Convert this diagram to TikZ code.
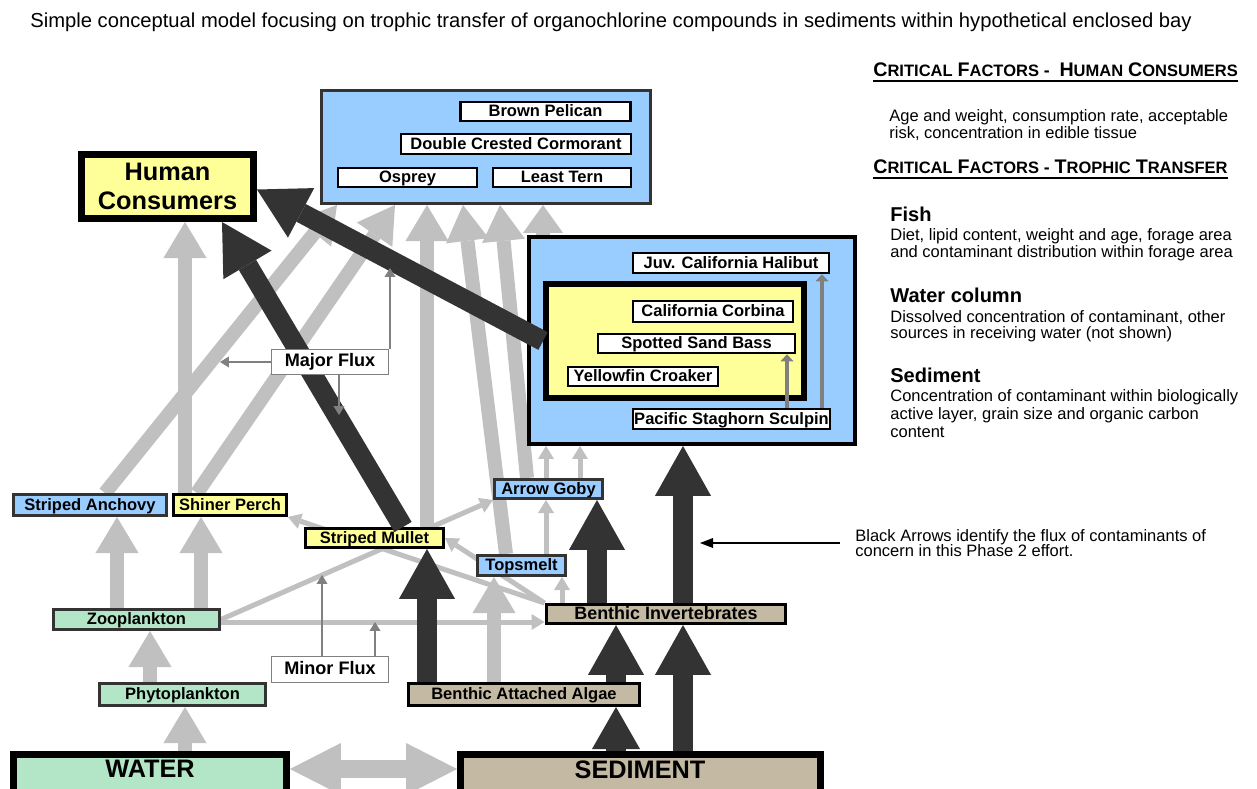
\documentclass[tikz,border=0pt]{standalone}
\usepackage{fontspec}
\setmainfont{Liberation Sans}
\usetikzlibrary{arrows.meta,calc}
\definecolor{lblue}{HTML}{99CCFF}
\definecolor{lyel}{HTML}{FFFF99}
\definecolor{mint}{HTML}{B3E6C6}
\definecolor{sedtan}{HTML}{C4B9A3}
\definecolor{lgray}{HTML}{C0C0C0}
\definecolor{dgray}{HTML}{333333}
\definecolor{mgray}{HTML}{808080}
\pgfdeclarelayer{bgfill}
\pgfdeclarelayer{bg}
\pgfsetlayers{bgfill,bg,main}
\newlength\pxu
\setlength\pxu{0.569pt}
\newcommand\lblfont{\fontsize{9.4}{11}\selectfont\bfseries}
\newcommand\bigfont{\fontsize{14.4}{16.4}\selectfont\bfseries}
\newcommand\rtfont{\fontsize{9.4}{11}\selectfont}
\newcommand\rhfont{\fontsize{11.4}{13}\selectfont\bfseries}
\newcommand\scA[1]{{\fontsize{11.2}{13}\selectfont #1}}
\newcommand\scB[1]{{\fontsize{9.4}{13}\selectfont #1}}
\tikzset{
  box/.style={draw=black, line width=2.5\pxu, fill=white, inner sep=0, font=\lblfont, align=center,
    text height=7.9pt, text depth=1.7pt},
  flux/.style={draw=mgray, line width=1\pxu, fill=white, inner sep=0, font=\fontsize{10.3}{12}\selectfont\bfseries,
    text height=7.6pt, text depth=2pt},
  heavy/.style={draw=black, line width=7\pxu, inner sep=0, align=center, font=\bigfont},
  ggray/.style={draw=lgray, line width=14\pxu, -{Triangle[length=20.5pt, width=24.5pt, line width=0pt]}},
  tgray/.style={draw=lgray, line width=5\pxu, -{Triangle[length=7.4pt, width=9.1pt, line width=0pt]}},
  blk/.style={draw=dgray, line width=20\pxu, -{Triangle[length=28.4pt, width=31.9pt, line width=0pt]}},
  ptr/.style={draw=mgray, line width=1.6\pxu, -{Triangle[length=5.1pt, width=6.3pt, line width=0pt]}},
  fin/.style={draw=mgray, line width=4\pxu, -{Triangle[length=4pt, width=7.4pt, line width=0pt]}},
  rt/.style={anchor=base west, inner sep=0, font=\rtfont},
  rh/.style={anchor=base west, inner sep=0, font=\rhfont},
}
\begin{document}
\begin{tikzpicture}[x=0.02cm, y=-0.02cm]
\useasboundingbox (0,0) rectangle (1257,788);
\begin{pgfonlayer}{bgfill}
\fill[white] (0,0) rectangle (1257,788);
\end{pgfonlayer}
\clip (0,0) rectangle (1257,788);

% x columns
\foreach \c in {105,117,150,185,197,201,222,322,337,339,345,375,390,395,403,427,463,494,500,506,527,543,546,562,580,597,616,683,787,822}
  {\coordinate (x\c) at (\c,0);}
\coordinate (y622) at (0,622);
\coordinate (y769) at (0,769);

% title
\node[anchor=base west, inner sep=0, font=\fontsize{11.5}{13}\selectfont] (title) at (30,27)
  {Simple conceptual model focusing on trophic transfer of organochlorine compounds in sediments within hypothetical enclosed bay};

% ---------- container / heavy boxes ----------
\node[draw=dgray, line width=3\pxu, fill=lblue, minimum width=329\pxu, minimum height=113\pxu] (birds) at (486,147) {};
\node[draw=black, line width=4\pxu, fill=lblue, minimum width=326\pxu, minimum height=207\pxu] (fish) at (692,340.5) {};
\node[heavy, fill=lyel, minimum width=258\pxu, minimum height=114\pxu, line width=6\pxu] (innery) at (675,341) {};
\node[heavy, fill=lyel, minimum width=172\pxu, minimum height=64\pxu] (human) at (167.5,186.5) {Human\\Consumers};
\node[heavy, fill=mint, minimum width=273\pxu, minimum height=56\pxu] (water) at (150,782.5) {};
\node[heavy, fill=sedtan, minimum width=360\pxu, minimum height=56\pxu] (sediment) at (640.5,782.5) {};
\node[anchor=base, inner sep=0, font=\bigfont] (watertxt) at (150,777) {WATER};
\node[anchor=base, inner sep=0, font=\bigfont] (sedtxt) at (640,778) {SEDIMENT};

% ---------- label boxes inside containers ----------
\path
  node[box, minimum width=170\pxu, minimum height=19\pxu] (pelican) at (545.5,111.5) {Brown Pelican}
  node[box, minimum width=230\pxu, minimum height=20\pxu] (cormorant) at (516,144) {Double Crested Cormorant}
  node[box, minimum width=139\pxu, minimum height=19\pxu] (osprey) at (407.5,177.5) {Osprey}
  node[box, minimum width=138\pxu, minimum height=19\pxu] (tern) at (562,177.5) {Least Tern}
  node[box, minimum width=196\pxu, minimum height=20\pxu] (halibut) at (731,263) {Juv. California Halibut}
  node[box, minimum width=160\pxu, minimum height=21\pxu] (corbina) at (713,311.5) {California Corbina}
  node[box, minimum width=197\pxu, minimum height=19\pxu] (bass) at (696.5,343.5) {Spotted Sand Bass}
  node[box, minimum width=150\pxu, minimum height=19\pxu] (croaker) at (643,376.5) {Yellowfin Croaker}
  node[box, minimum width=197\pxu, minimum height=20\pxu] (sculpin) at (731.5,419) {Pacific Staghorn Sculpin};

% ---------- small boxes ----------
\path
  node[box, fill=lblue, draw=dgray, line width=3\pxu, minimum width=153\pxu, minimum height=21\pxu] (anchovy) at (90,505) {Striped Anchovy}
  node[box, fill=lyel, line width=3\pxu, minimum width=113\pxu, minimum height=21\pxu] (perch) at (230,505) {Shiner Perch}
  node[box, fill=lyel, line width=3\pxu, minimum width=138\pxu, minimum height=19\pxu] (mullet) at (374.5,538) {Striped Mullet}
  node[box, fill=lblue, draw=dgray, line width=3\pxu, minimum width=108\pxu, minimum height=19\pxu] (goby) at (548.5,489) {Arrow Goby}
  node[box, fill=lblue, draw=dgray, line width=3\pxu, minimum width=88\pxu, minimum height=20\pxu] (topsmelt) at (521.5,565.5) {Topsmelt}
  node[box, fill=sedtan, line width=3\pxu, minimum width=240\pxu, minimum height=19\pxu, font=\fontsize{10.2}{12}\selectfont\bfseries] (bi) at (666,614) {Benthic Invertebrates}
  node[box, fill=mint, draw=dgray, line width=3\pxu, minimum width=166\pxu, minimum height=20\pxu] (zoo) at (136.5,619.5) {Zooplankton}
  node[box, fill=mint, draw=dgray, line width=3\pxu, minimum width=166\pxu, minimum height=22\pxu] (phyto) at (182.5,694.5) {Phytoplankton}
  node[box, fill=sedtan, line width=3\pxu, minimum width=231\pxu, minimum height=22\pxu] (algae) at (524,694.5) {Benthic Attached Algae};

% ---------- light gray arrows (behind the boxes) ----------
\begin{pgfonlayer}{bg}
\draw[ggray] (water.north -| x185) -- (phyto.south -| x185);
\draw[ggray] (phyto.north -| x150) -- (zoo.south -| x150);
\draw[ggray] (zoo.north -| x117) -- (anchovy.south -| x117);
\draw[ggray] (zoo.north -| x201) -- (perch.south -| x201);
\draw[ggray] (perch.north -| x185) -- (human.south -| x185);
\draw[ggray] (anchovy.north -| x105) -- (birds.south -| x337);
\draw[ggray] (perch.north -| x197) -- (birds.south -| x395);
\draw[ggray] (mullet.north -| x427) -- (birds.south -| x427);
\draw[ggray] (topsmelt.north -| x506) -- (birds.south -| x463);
\draw[ggray] (goby.north -| x527) -- (birds.south -| x500);
\draw[ggray] (algae.north -| x494) -- (topsmelt.south -| x494);
\draw[ggray, -{Triangle[length=15.9pt, width=22.8pt, line width=0pt]}] (fish.north -| x543) -- (birds.south -| x543);
\draw[lgray, line width=18\pxu, {Triangle[length=29pt, width=29.6pt, line width=0pt]}-{Triangle[length=29pt, width=29.6pt, line width=0pt]}]
  (water.east |- y769) -- (sediment.west |- y769);
% thin
\draw[tgray] (zoo.east) -- (goby.south west);
\draw[tgray] (zoo.east |- y622) -- (bi.west |- y622);
\draw[tgray] (bi.north west) -- (perch.south east);
\draw[tgray] (bi.north west) -- (mullet.east);
\draw[tgray] (topsmelt.north -| x546) -- (goby.south -| x546);
\draw[tgray] (goby.north -| x546) -- (fish.south -| x546);
\draw[tgray] (goby.north -| x580) -- (fish.south -| x580);
\draw[tgray] (bi.north -| x562) -- (topsmelt.south -| x562);
\end{pgfonlayer}

% ---------- black arrows ----------
\draw[blk] (innery.west) -- ($(human.east)+(0,3)$);
\draw[blk] (mullet.north -| x403) -- (human.south -| x222);
\draw[blk] (algae.north -| x427) -- (mullet.south -| x427);
\draw[blk] (algae.north -| x616) -- (bi.south -| x616);
\draw[blk, -{Triangle[length=23.9pt, width=27.3pt, line width=0pt]}] (sediment.north -| x616) -- (algae.south -| x616);
\draw[blk] (sediment.north -| x683) -- (bi.south -| x683);
\draw[blk] (bi.north -| x597) -- (goby.south -| x597);
\draw[blk] (bi.north -| x683) -- (fish.south -| x683);

% ---------- flux labels ----------
\node[flux, minimum width=117\pxu, minimum height=25\pxu] (major) at (330,362) {Major Flux};
\node[flux, minimum width=117\pxu, minimum height=26\pxu] (minor) at (330,669.5) {Minor Flux};
\coordinate (pt1) at (220,362);
\coordinate (pt2) at (339,415);
\coordinate (pt3) at (390,268);
\coordinate (pt4) at (322,575);
\coordinate (pt5) at (375,622);
\draw[ptr] (major.west) -- (pt1);
\draw[ptr] (major.south -| x339) -- (pt2);
\draw[ptr] (major.north -| x390) -- (pt3);
\draw[ptr] (minor.north -| x322) -- (pt4);
\draw[ptr] (minor.north -| x375) -- (pt5);

% fish internal arrows
\draw[fin] (sculpin.north -| x787) -- (bass.south -| x787);
\draw[fin] (sculpin.north -| x822) -- (halibut.south -| x822);

% ---------- right-hand text ----------
\node[anchor=base west, inner sep=0, font=\bfseries] (h1) at (873,76)
  {\scA{C}\scB{RITICAL} \scA{F}\scB{ACTORS} -\ \ \scA{H}\scB{UMAN} \scA{C}\scB{ONSUMERS}};
\draw[line width=2\pxu] ([yshift=-2.6pt]h1.base west) -- ([yshift=-2.6pt]h1.base east);
\node[rt] (r1) at (889,121) {Age and weight, consumption rate, acceptable};
\node[rt] (r2) at (889,138) {risk, concentration in edible tissue};
\node[anchor=base west, inner sep=0, font=\bfseries] (h2) at (873,173)
  {\scA{C}\scB{RITICAL} \scA{F}\scB{ACTORS} - \scA{T}\scB{ROPHIC} \scA{T}\scB{RANSFER}};
\draw[line width=2\pxu] ([yshift=-2.6pt]h2.base west) -- ([yshift=-2.6pt]h2.base east);
\node[rh] (r3) at (890,221) {Fish};
\node[rt] (r4) at (890,240) {Diet, lipid content, weight and age, forage area};
\node[rt] (r5) at (890,257) {and contaminant distribution within forage area};
\node[rh] (r6) at (890,302) {Water column};
\node[rt] (r7) at (890,322) {Dissolved concentration of contaminant, other};
\node[rt] (r8) at (890,338) {sources in receiving water (not shown)};
\node[rh] (r9) at (890,382) {Sediment};
\node[rt] (r10) at (890,401) {Concentration of contaminant within biologically};
\node[rt] (r11) at (890,419) {active layer, grain size and organic carbon};
\node[rt] (r12) at (890,437) {content};

\node[rt] (n1) at (855,541.5) {Black Arrows identify the flux of contaminants of};
\node[rt] (n2) at (855,556.5) {concern in this Phase 2 effort.};
\coordinate (pa) at (840,543);
\coordinate (pb) at (700,543);
\draw[black, line width=1.6\pxu, -{Triangle[length=7.4pt, width=5.7pt, line width=0pt]}] (pa) -- (pb);
\end{tikzpicture}
\end{document}
